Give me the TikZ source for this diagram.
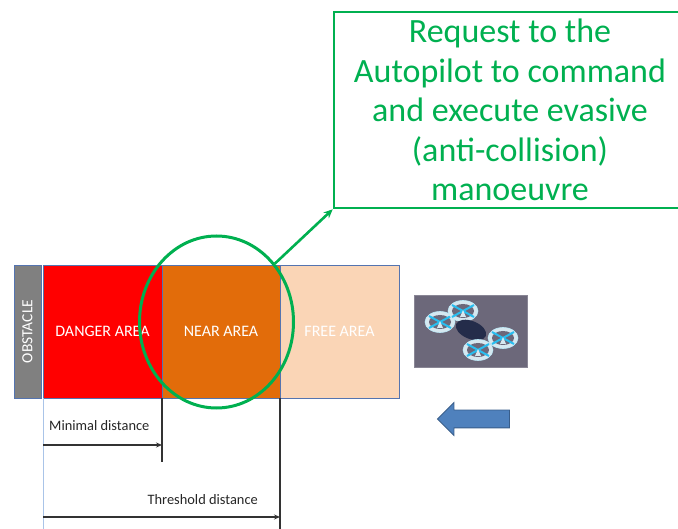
\documentclass[tikz,border=0pt]{standalone}
\usepackage{fontspec}
\setmainfont{Carlito}
\usetikzlibrary{positioning,arrows.meta,shapes.geometric,shapes.arrows}

\definecolor{dangerred}{RGB}{255,0,0}
\definecolor{nearorange}{RGB}{226,108,10}
\definecolor{freepeach}{RGB}{250,213,182}
\definecolor{borderblue}{RGB}{84,116,176}
\definecolor{edgeblue}{RGB}{170,196,232}
\definecolor{calloutgreen}{RGB}{0,176,80}
\definecolor{dronebg}{RGB}{108,104,122}
\definecolor{ringwhite}{RGB}{214,232,240}
\definecolor{bladecyan}{RGB}{40,190,240}
\definecolor{bodynavy}{RGB}{36,44,74}
\definecolor{arrowblue}{RGB}{79,129,189}
\definecolor{arrowedge}{RGB}{56,93,138}

\tikzset{
	zone/.style={draw=borderblue,line width=0.9pt,minimum width=118pt,minimum height=133pt,
		inner sep=0pt,outer sep=0pt,text=white,font=\fontsize{16}{18}\selectfont},
	marker/.style={draw=black!80,line width=1.1pt},
	span/.style={marker,-{Stealth[length=6pt,width=5pt]}},
	distlabel/.style={font=\fontsize{14.4}{16}\selectfont,text=black!85,inner sep=0pt},
	callout/.style={draw=calloutgreen,line width=2.6pt,text=calloutgreen,align=center,
		minimum width=352pt,minimum height=196pt,inner sep=0pt,
		font=\fontsize{34}{39.5}\selectfont},
	rotor/.style={fill=ringwhite,draw=white!70!bladecyan,line width=0.6pt}
}

\begin{document}
\begin{tikzpicture}[x=1pt,y=-1pt]
	\clip (0,0) rectangle (678,529);
	\useasboundingbox (0,0) rectangle (678,529);

	\node[zone,fill=black!50,minimum width=27pt] (obstacle) at (27.5,331.5) {};
	\node[rotate=90,text=white,font=\fontsize{15.5}{17}\selectfont] at (obstacle) {OBSTACLE};
	\node[zone,fill=dangerred,minimum width=119pt,right=2pt of obstacle] (danger) {DANGER AREA};
	\node[zone,fill=nearorange,right=0pt of danger] (near) {NEAR AREA};
	\node[zone,fill=freepeach,minimum width=119pt,right=0pt of near] (free) {FREE AREA};

	\coordinate (mintop) at (near.south west);
	\coordinate (minend) at (162,462);
	\coordinate (thrtop) at (free.south west);
	\coordinate (thrend) at (280,529);
	\coordinate (origin) at (danger.south west);
	\coordinate (originend) at (43,529);
	\draw[draw=edgeblue,line width=1pt] (origin) -- (originend);
	\draw[marker] (mintop) -- (minend);
	\draw[marker] (thrtop) -- (thrend);
	\coordinate (minstart) at (43,445);
	\coordinate (minstop) at (162,445);
	\coordinate (thrstart) at (43,517);
	\coordinate (thrstop) at (280,517);
	\draw[span] (minstart) -- (minstop);
	\draw[span] (thrstart) -- (thrstop);
	\node[distlabel,anchor=west] (minlabel) at (49,426) {Minimal distance};
	\node[distlabel,anchor=east] (thrlabel) at (258,500) {Threshold distance};

	\node[ellipse,draw=calloutgreen,line width=3pt,minimum width=154pt,minimum height=172pt] (focus) at (216.5,322) {};
	\node[callout] (request) at (510,110) {Request to the\\Autopilot to command\\and execute evasive\\(anti-collision)\\manoeuvre};
	\draw[draw=calloutgreen,line width=2.6pt,-{Stealth[length=9pt,width=8pt]}] (focus.45) -- (request.south west);

	\node[fill=dronebg,draw=dronebg!80!white,minimum width=113pt,minimum height=72pt] (drone) at (470.5,331) {};
	\foreach \cx/\cy in {440/322,463/311}{
		\draw[rotor] (\cx,\cy) ellipse (15 and 10.5);
		\fill[dronebg] (\cx,\cy) ellipse (11 and 7);
		\draw[bladecyan,line width=2pt] (\cx-11,\cy-6) -- (\cx+11,\cy+6) (\cx-11,\cy+6) -- (\cx+11,\cy-6);
		\fill[ringwhite] (\cx-3,\cy+6) -- (\cx,\cy-1) -- (\cx+3,\cy+6) -- cycle;
	}
	\fill[bodynavy,rotate around={-22:(471,330)}] (471,330) ellipse (16 and 9);
	\foreach \cx/\cy in {503/338,478/350}{
		\draw[rotor] (\cx,\cy) ellipse (15 and 10.5);
		\fill[dronebg] (\cx,\cy) ellipse (11 and 7);
		\draw[bladecyan,line width=2pt] (\cx-11,\cy-6) -- (\cx+11,\cy+6) (\cx-11,\cy+6) -- (\cx+11,\cy-6);
		\fill[ringwhite] (\cx-3,\cy+6) -- (\cx,\cy-1) -- (\cx+3,\cy+6) -- cycle;
	}

	\node[single arrow,shape border rotate=180,fill=arrowblue,draw=arrowedge,line width=0.8pt,
		minimum height=72pt,single arrow head extend=7.5pt,inner xsep=0pt,inner ysep=8.5pt] (approach) at (478,419) {};
\end{tikzpicture}
\end{document}
